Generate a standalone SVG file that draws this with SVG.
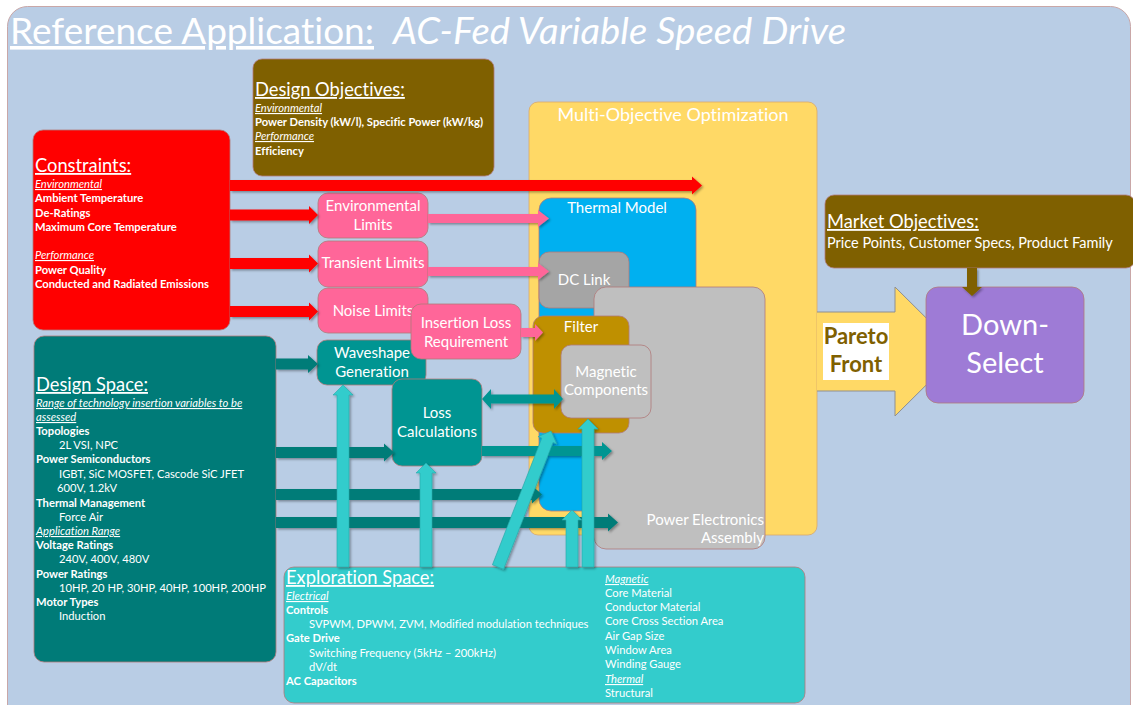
<svg xmlns="http://www.w3.org/2000/svg" width="1133" height="705" viewBox="0 0 1133 705">
<defs>
<style>
text{font-family:Lato,'Open Sans','Liberation Sans',sans-serif;fill:#fff;font-variant-ligatures:none}
.h{font-size:18.3px;text-decoration:underline}
.s{font-size:11.2px}
.b{font-weight:700}
.iu{font-style:italic;text-decoration:underline}
.c{text-anchor:middle}
.l{font-size:15px}
.box{stroke:#B07A7A;stroke-width:0.8}
.red{fill:#FF0000}
.pink{fill:#FF6699}
.dteal{fill:#007B78}
.mteal{fill:#009592}
.lteal{fill:#33CCCC;stroke:#27A9A9;stroke-width:0.6}
.brown{fill:#7F6000}
</style>
<filter id="sh" x="-50%" y="-50%" width="200%" height="200%">
<feDropShadow dx="1.5" dy="1.5" stdDeviation="1" flood-color="#000" flood-opacity="0.35"/>
</filter>
</defs>

<!-- page panel -->
<rect x="7.5" y="6.5" width="1123" height="720" rx="20" fill="#B9CDE5" stroke="#C9A7A7" stroke-width="1"/>

<!-- heading -->
<text x="10" y="44" font-size="36" text-decoration="underline" textLength="364" lengthAdjust="spacingAndGlyphs">Reference Application:</text>
<text x="393" y="44" font-size="36" font-style="italic" textLength="453" lengthAdjust="spacingAndGlyphs">AC-Fed Variable Speed Drive</text>

<g id="design-objectives">
<rect x="253" y="59" width="241" height="117" rx="9" class="brown box"/>
<text x="255" y="96" class="h">Design Objectives:</text>
<text x="255" y="112" class="s iu">Environmental</text>
<text x="255" y="126" class="s b">Power Density (kW/l), Specific Power (kW/kg)</text>
<text x="255" y="140" class="s iu">Performance</text>
<text x="255" y="155" class="s b">Efficiency</text>
</g>

<g id="multi-objective-optimization">
<rect x="529" y="102" width="288" height="433" rx="9" fill="#FFD966" stroke="#D9A86A" stroke-width="0.8"/>
<text x="673" y="121" class="c" style="font-size:18px">Multi-Objective Optimization</text>
</g>

<g id="pareto-front">
<polygon points="817,312 895,312 895,287 960,351.5 895,416 895,391 817,391" fill="#FFD966"/>
<polyline points="817,312 895,312 895,287 960,351.5 895,416 895,391 817,391" fill="none" stroke="#8F8F8F" stroke-width="1"/>
<rect x="823" y="323" width="66" height="57" fill="#fff"/>
<text x="856" y="344" class="c b" style="font-size:22px;fill:#7F6000">Pareto</text>
<text x="856" y="372" class="c b" style="font-size:22px;fill:#7F6000">Front</text>
</g>

<g id="thermal-model">
<rect x="539" y="198" width="157" height="313" rx="12" fill="#00B0F0" class="box"/>
<text x="617" y="213" class="c l">Thermal Model</text>
</g>

<g id="dc-link">
<rect x="539" y="252" width="90" height="56" rx="10" fill="#A5A5A5" class="box"/>
<text x="584" y="285" class="c l">DC Link</text>
</g>

<g id="power-electronics-assembly">
<rect x="594" y="287" width="171" height="262" rx="12" fill="#BFBFBF" class="box"/>
<text x="764" y="525" class="l" text-anchor="end">Power Electronics</text>
<text x="764" y="543" class="l" text-anchor="end">Assembly</text>
</g>

<g id="filter">
<rect x="533" y="316" width="96" height="117" rx="10" fill="#BF9000" class="box"/>
<text x="581" y="332" class="c l">Filter</text>
</g>

<g id="magnetic-components">
<rect x="561" y="345" width="90" height="73" rx="10" fill="#BFBFBF" class="box"/>
<text x="606" y="377" class="c l">Magnetic</text>
<text x="606" y="395" class="c l">Components</text>
</g>

<g id="constraints">
<rect x="33" y="130" width="197" height="200" rx="10" class="red box"/>
<text x="35" y="172" class="h">Constraints:</text>
<text x="35" y="188" class="s iu">Environmental</text>
<text x="35" y="202" class="s b">Ambient Temperature</text>
<text x="35" y="217" class="s b">De-Ratings</text>
<text x="35" y="231" class="s b">Maximum Core Temperature</text>
<text x="35" y="259" class="s iu">Performance</text>
<text x="35" y="274" class="s b">Power Quality</text>
<text x="35" y="288" class="s b">Conducted and Radiated Emissions</text>
</g>

<g id="environmental-limits">
<rect x="318" y="193" width="110" height="45" rx="10" class="pink box"/>
<text x="373" y="211" class="c l">Environmental</text>
<text x="373" y="230" class="c l">Limits</text>
</g>

<g id="transient-limits">
<rect x="318" y="241" width="110" height="46" rx="10" class="pink box"/>
<text x="373" y="268" class="c l">Transient Limits</text>
</g>

<g id="noise-limits">
<rect x="318" y="288" width="110" height="45" rx="10" class="pink box"/>
<text x="373" y="316" class="c l">Noise Limits</text>
</g>

<g id="waveshape-generation">
<rect x="317" y="340" width="109" height="45" rx="10" class="mteal box"/>
<text x="372" y="358" class="c l">Waveshape</text>
<text x="372" y="377" class="c l">Generation</text>
</g>

<g id="insertion-loss-requirement">
<rect x="411" y="304" width="110" height="55" rx="10" class="pink box"/>
<text x="466" y="328" class="c l">Insertion Loss</text>
<text x="466" y="347" class="c l">Requirement</text>
</g>

<g id="loss-calculations">
<rect x="392" y="379" width="90" height="87" rx="10" class="mteal box"/>
<text x="437" y="418" class="c l">Loss</text>
<text x="437" y="437" class="c l">Calculations</text>
</g>

<g id="design-space">
<rect x="34" y="336" width="242" height="326" rx="10" class="dteal box"/>
<text x="36" y="391" class="h">Design Space:</text>
<text x="36" y="407" class="s iu">Range of technology insertion variables to be</text>
<text x="36" y="421" class="s iu">assessed</text>
<text x="36" y="435" class="s b">Topologies</text>
<text x="59" y="449" class="s">2L VSI, NPC</text>
<text x="36" y="463" class="s b">Power Semiconductors</text>
<text x="59" y="478" class="s">IGBT, SiC MOSFET, Cascode SiC JFET</text>
<text x="57" y="492" class="s">600V, 1.2kV</text>
<text x="36" y="507" class="s b">Thermal Management</text>
<text x="59" y="521" class="s">Force Air</text>
<text x="36" y="535" class="s iu">Application Range</text>
<text x="36" y="549" class="s b">Voltage Ratings</text>
<text x="59" y="563" class="s">240V, 400V, 480V</text>
<text x="36" y="578" class="s b">Power Ratings</text>
<text x="59" y="592" class="s">10HP, 20 HP, 30HP, 40HP, 100HP, 200HP</text>
<text x="36" y="606" class="s b">Motor Types</text>
<text x="59" y="620" class="s">Induction</text>
</g>

<g id="exploration-space">
<rect x="284" y="567" width="521" height="136" rx="10" fill="#33CCCC" class="box"/>
<text x="286" y="584" class="h">Exploration Space:</text>
<text x="286" y="600" class="s iu">Electrical</text>
<text x="286" y="614" class="s b">Controls</text>
<text x="309" y="628" class="s">SVPWM, DPWM, ZVM, Modified modulation techniques</text>
<text x="286" y="642" class="s b">Gate Drive</text>
<text x="309" y="657" class="s">Switching Frequency (5kHz – 200kHz)</text>
<text x="309" y="671" class="s">dV/dt</text>
<text x="286" y="685" class="s b">AC Capacitors</text>
<text x="605" y="583" class="s iu">Magnetic</text>
<text x="605" y="597" class="s">Core Material</text>
<text x="605" y="611" class="s">Conductor Material</text>
<text x="605" y="625" class="s">Core Cross Section Area</text>
<text x="605" y="640" class="s">Air Gap Size</text>
<text x="605" y="654" class="s">Window Area</text>
<text x="605" y="668" class="s">Winding Gauge</text>
<text x="605" y="683" class="s iu">Thermal</text>
<text x="605" y="697" class="s">Structural</text>
</g>

<g id="market-objectives">
<rect x="825" y="195" width="310" height="73" rx="9" class="brown box"/>
<text x="827" y="228" class="h">Market Objectives:</text>
<text x="827" y="248" style="font-size:14.5px">Price Points, Customer Specs, Product Family</text>
</g>

<g id="down-select">
<rect x="926" y="287" width="158" height="116" rx="12" fill="#9E7BD6" class="box"/>
<text x="1005" y="335" class="c" style="font-size:29px">Down-</text>
<text x="1005" y="373" class="c" style="font-size:29px">Select</text>
</g>

<g id="connectors" filter="url(#sh)">
<!-- constraints to optimizer and limit blocks -->
<polygon class="red" points="230,180 692,180 692,176.5 702,185.5 692,194.5 692,191 230,191"/>
<polygon class="red" points="230,209.5 309,209.5 309,206 318,215 309,224 309,220.5 230,220.5"/>
<polygon class="red" points="230,258 309,258 309,254.5 318,263.5 309,272.5 309,269 230,269"/>
<polygon class="red" points="230,306 309,306 309,302.5 318,311.5 309,320.5 309,317 230,317"/>
<!-- limits into models -->
<polygon class="pink" points="428,214 538,214 538,210 549,218.5 538,227 538,223 428,223"/>
<polygon class="pink" points="428,267 538,267 538,263 549,271.5 538,280 538,276 428,276"/>
<polygon class="pink" points="521,328 535,328 535,324 543,332.5 535,341 535,337 521,337"/>
<!-- design space outputs -->
<polygon class="dteal" points="276,358.5 308,358.5 308,355 318,364 308,373 308,369.5 276,369.5"/>
<polygon class="dteal" points="276,447 384,447 384,443.5 394,452.5 384,461.5 384,458 276,458"/>
<polygon class="dteal" points="276,489 532,489 532,485.5 542,494.5 532,503.5 532,500 276,500"/>
<polygon class="dteal" points="276,517 608,517 608,513.5 618,522.5 608,531.5 608,528 276,528"/>
<!-- loss calculation links -->
<polygon class="mteal" points="482,446 602,446 602,442 612,451 602,460 602,456 482,456"/>
<polygon class="mteal" points="482,399 491,389 491,394.5 554,394.5 554,389 563,399 554,409 554,403.5 491,403.5 491,409"/>
<!-- market objectives into down-select -->
<polygon class="brown" points="967,268 977,268 977,287 982,287 972,296 962,287 967,287"/>
<!-- exploration space inputs -->
<polygon class="lteal" points="337,567 337,395 333,395 343,385 353,395 349,395 349,567"/>
<polygon class="lteal" points="420,567 420,473 416,473 426,463 436,473 432,473 432,567"/>
<polygon class="lteal" points="566,567 566,520 562,520 572,510 582,520 578,520 578,567"/>
<polygon class="lteal" points="582,567 582,429 578,429 588,419 598,429 594,429 594,567"/>
<polygon class="lteal" transform="translate(498,567) rotate(21.3)" points="-6,0 -6,-136 -10,-136 0,-146 10,-136 6,-136 6,0"/>
</g>
</svg>
